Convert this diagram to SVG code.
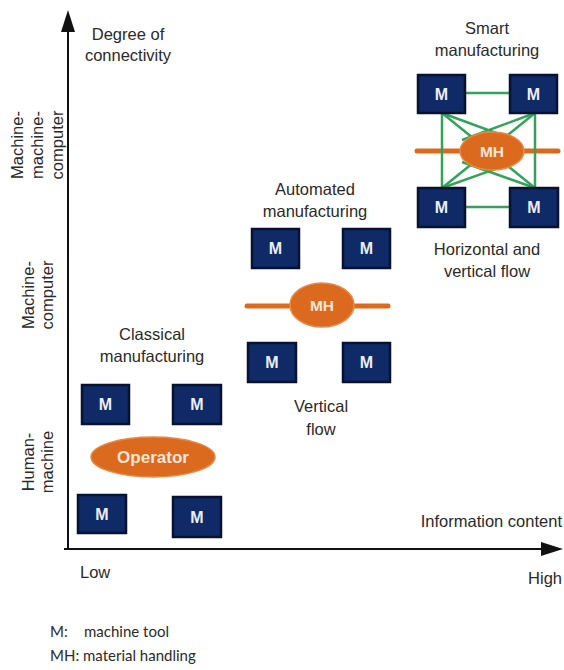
<svg xmlns="http://www.w3.org/2000/svg" width="564" height="670" viewBox="0 0 564 670">
<style>
  .lbl{font-family:"Liberation Sans",Arial,sans-serif;font-size:16.5px;fill:#2a2a2a;text-anchor:middle}
  .lbl-e{font-family:"Liberation Sans",Arial,sans-serif;font-size:16.5px;fill:#2a2a2a;text-anchor:end}
  .lbl-s{font-family:"Liberation Sans",Arial,sans-serif;font-size:16.5px;fill:#2a2a2a}
  .leg{font-family:Lato,"Liberation Sans",sans-serif;font-size:15px;fill:#2a2a2a}
  .box{fill:#0f2a66;stroke:#071233;stroke-width:2.5}
  .mt{font-family:"Liberation Sans",Arial,sans-serif;font-size:16px;font-weight:bold;fill:#eceef5;text-anchor:middle}
  .oval{fill:#dc6a1e;stroke:#e8894a;stroke-width:1.5}
  .ot{font-family:"Liberation Sans",Arial,sans-serif;font-weight:bold;fill:#f6e6da;text-anchor:middle}
  .rail{stroke:#dc6a1e;stroke-width:5;stroke-linecap:round}
  .g{stroke:#34a35a;stroke-width:2.5;fill:none}
  .axis{stroke:#111;stroke-width:2;fill:none}
</style>

<g id="axes">
  <line class="axis" x1="68" y1="549" x2="68" y2="28"/>
  <polygon points="68,10 61,32 75,32" fill="#111"/>
  <line class="axis" x1="64" y1="549" x2="545" y2="549"/>
  <polygon points="563,549 541,542 541,556" fill="#111"/>
</g>

<g id="axis-labels">
  <text class="lbl" x="128" y="40">Degree of</text>
  <text class="lbl" x="128" y="61">connectivity</text>
  <text class="lbl-e" x="562" y="527">Information content</text>
  <text class="lbl-s" x="80" y="578">Low</text>
  <text class="lbl-e" x="562" y="584">High</text>
  <g transform="rotate(-90)">
    <text class="lbl" x="-145" y="23">Machine-</text>
    <text class="lbl" x="-145" y="43">machine-</text>
    <text class="lbl" x="-145" y="63">computer</text>
    <text class="lbl" x="-295" y="34">Machine-</text>
    <text class="lbl" x="-295" y="53">computer</text>
    <text class="lbl" x="-462" y="34">Human-</text>
    <text class="lbl" x="-462" y="53">machine</text>
  </g>
</g>

<g id="stage-labels">
  <text class="lbl" x="152" y="340">Classical</text>
  <text class="lbl" x="152" y="362">manufacturing</text>
  <text class="lbl" x="315" y="195">Automated</text>
  <text class="lbl" x="315" y="217">manufacturing</text>
  <text class="lbl" x="321" y="412">Vertical</text>
  <text class="lbl" x="321" y="435">flow</text>
  <text class="lbl" x="487" y="34">Smart</text>
  <text class="lbl" x="487" y="56">manufacturing</text>
  <text class="lbl" x="487" y="255">Horizontal and</text>
  <text class="lbl" x="487" y="277">vertical flow</text>
</g>

<g id="connectors">
  <line class="rail" x1="247" y1="306" x2="388" y2="306"/>
  <line class="rail" x1="417" y1="151" x2="558" y2="151"/>
  <line class="g" x1="465" y1="93" x2="510" y2="93"/>
  <line class="g" x1="465" y1="207" x2="510" y2="207"/>
  <line class="g" x1="442" y1="113" x2="442" y2="188"/>
  <line class="g" x1="535" y1="113" x2="535" y2="188"/>
  <line class="g" x1="442" y1="113" x2="535" y2="188"/>
  <line class="g" x1="535" y1="113" x2="442" y2="188"/>
  <line class="g" x1="442" y1="113" x2="515" y2="140"/>
  <line class="g" x1="535" y1="113" x2="462" y2="140"/>
  <line class="g" x1="442" y1="188" x2="515" y2="162"/>
  <line class="g" x1="535" y1="188" x2="462" y2="162"/>
</g>

<g id="classical">
  <g id="c-m1"><rect class="box" x="82" y="385" width="47" height="39"/><text class="mt" x="105.5" y="410">M</text></g>
  <g id="c-m2"><rect class="box" x="173" y="385" width="48" height="39"/><text class="mt" x="197" y="410">M</text></g>
  <g id="c-m3"><rect class="box" x="78" y="495" width="48" height="38"/><text class="mt" x="102" y="520">M</text></g>
  <g id="c-m4"><rect class="box" x="173" y="497" width="48" height="40"/><text class="mt" x="197" y="523">M</text></g>
  <g id="operator"><ellipse class="oval" cx="153" cy="457" rx="62" ry="20"/><text class="ot" x="153" y="463" font-size="17">Operator</text></g>
</g>

<g id="automated">
  <g id="a-m1"><rect class="box" x="252" y="229" width="47" height="39"/><text class="mt" x="275.5" y="254">M</text></g>
  <g id="a-m2"><rect class="box" x="343" y="229" width="47" height="39"/><text class="mt" x="366.5" y="254">M</text></g>
  <g id="a-m3"><rect class="box" x="248" y="343" width="48" height="39"/><text class="mt" x="272" y="368">M</text></g>
  <g id="a-m4"><rect class="box" x="343" y="343" width="47" height="39"/><text class="mt" x="366.5" y="368">M</text></g>
  <g id="a-mh"><ellipse class="oval" cx="322" cy="305" rx="32" ry="22"/><text class="ot" x="322" y="311" font-size="15.5">MH</text></g>
</g>

<g id="smart">
  <g id="s-m1"><rect class="box" x="418" y="75" width="47" height="38"/><text class="mt" x="441.5" y="100">M</text></g>
  <g id="s-m2"><rect class="box" x="510" y="75" width="47" height="38"/><text class="mt" x="533.5" y="100">M</text></g>
  <g id="s-m3"><rect class="box" x="418" y="188" width="47" height="39"/><text class="mt" x="441.5" y="213">M</text></g>
  <g id="s-m4"><rect class="box" x="510" y="188" width="48" height="39"/><text class="mt" x="534" y="213">M</text></g>
  <g id="s-mh"><ellipse class="oval" cx="492" cy="151" rx="32" ry="19"/><text class="ot" x="492" y="157" font-size="15.5">MH</text></g>
</g>

<g id="legend">
  <text class="leg" x="50" y="637">M:</text>
  <text class="leg" x="84" y="637">machine tool</text>
  <text class="leg" x="50" y="661">MH: material handling</text>
</g>
</svg>
